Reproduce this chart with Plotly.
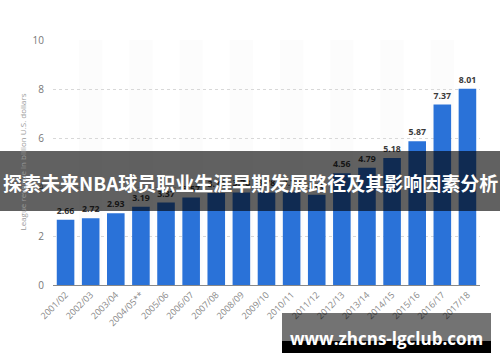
import plotly.graph_objects as go

seasons = ["2001/02", "2002/03", "2003/04", "2004/05**", "2005/06", "2006/07", "2007/08",
           "2008/09", "2009/10", "2010/11", "2011/12", "2012/13", "2013/14", "2014/15",
           "2015/16", "2016/17", "2017/18"]
revenue = [2.66, 2.72, 2.93, 3.19, 3.37, 3.57, 3.76, 3.78, 3.78, 3.79, 3.68, 4.56, 4.79, 5.18,
           5.87, 7.37, 8.01]
y_ticks = [0, 2, 4, 6, 8, 10]
title_text = "探索未来NBA球员职业生涯早期发展路径及其影响因素分析"
url_text = "www.zhcns-lgclub.com"
y_title = "League revenue in billion U.S. dollars"

fig = go.Figure()
fig.add_trace(go.Bar(
    x=seasons, y=revenue, width=0.7,
    marker=dict(color="#2a72d8", line=dict(width=0)),
    text=[f"{v:.2f}" for v in revenue], textposition="outside",
    textfont=dict(family="Open Sans", size=9, color="#3a3a3a", weight="bold"),
    cliponaxis=False,
))

shapes = []
for i in range(len(seasons)):
    if i % 2 == 1:
        shapes.append(dict(type="rect", xref="x", yref="paper", x0=i - 0.47, x1=i + 0.47,
                           y0=0, y1=1, fillcolor="rgba(0,0,0,0.012)", line=dict(width=0),
                           layer="below"))
# title banner
shapes.append(dict(type="rect", xref="paper", yref="paper", x0=-0.2, x1=1.1,
                   y0=(285 - 211) / 245, y1=(285 - 151) / 245,
                   fillcolor="rgba(0,0,0,0.62)", line=dict(width=0), layer="above"))
# bottom url banner
shapes.append(dict(type="rect", xref="paper", yref="paper",
                   x0=(282 - 53) / 427, x1=(491 - 53) / 427,
                   y0=(285 - 341) / 245, y1=(285 - 313) / 245,
                   fillcolor="rgba(0,0,0,0.55)", line=dict(width=0), layer="above"))
shapes.append(dict(type="rect", xref="paper", yref="paper",
                   x0=(282 - 53) / 427, x1=(491 - 53) / 427,
                   y0=(285 - 353) / 245, y1=(285 - 341) / 245,
                   fillcolor="#000000", line=dict(width=0), layer="above"))

annotations = [
    dict(text=title_text, xref="paper", yref="paper", x=(250 - 53) / 427, y=(285 - 182) / 245,
         showarrow=False, xanchor="center", yanchor="middle",
         font=dict(family="Noto Sans CJK SC", size=19, color="white", weight="bold")),
    dict(text=url_text, xref="paper", yref="paper", x=(386 - 53) / 427, y=(285 - 338) / 245,
         showarrow=False, xanchor="center", yanchor="middle",
         font=dict(family="Open Sans", size=17, color="white", weight="bold")),
    dict(text=y_title, xref="paper", yref="paper", x=(22 - 53) / 427, y=0.5,
         showarrow=False, textangle=-90, xanchor="center", yanchor="middle",
         font=dict(family="Open Sans", size=8, color="#999999")),
]

fig.update_layout(
    width=500, height=362,
    margin=dict(l=53, r=20, t=40, b=77),
    paper_bgcolor="white", plot_bgcolor="white",
    showlegend=False, bargap=0.3,
    shapes=shapes, annotations=annotations,
    font=dict(family="Open Sans"),
)
fig.update_xaxes(
    tickangle=-45, tickfont=dict(size=9, color="#888888"),
    showline=True, linecolor="#888888", linewidth=1,
    showgrid=False, ticks="",
)
fig.update_yaxes(
    range=[0, 10], tickvals=y_ticks, ticktext=[str(t) for t in y_ticks],
    tickfont=dict(size=10, color="#777777"),
    showgrid=True, gridcolor="#d8d8d8", griddash="dot", gridwidth=1,
    zeroline=False, showline=False, ticklabelstandoff=8,
)

fig.write_html("out.html")
